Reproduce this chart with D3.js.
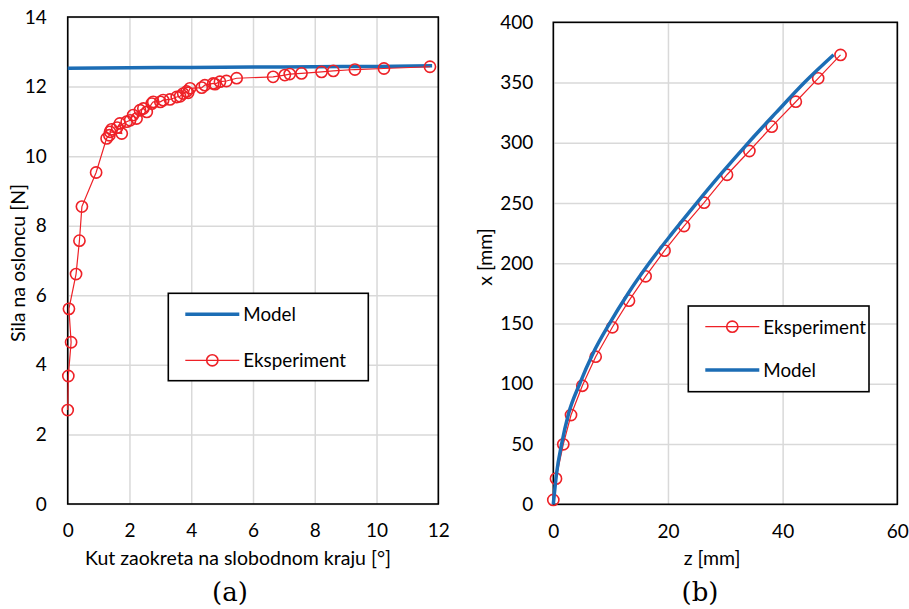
<!DOCTYPE html>
<html>
<head>
<meta charset="utf-8">
<script src="https://cdn.jsdelivr.net/npm/d3@7"></script>
<style>
  body { margin: 0; background: #fff; }
  svg { display: block; }
  .tick text { font-family: Lato, "Open Sans", sans-serif; font-size: 19px; fill: #000; }
  .grid line { stroke: #d9d9d9; stroke-width: 1.5; }
  .lbl { font-family: Lato, "Open Sans", sans-serif; font-size: 19.5px; fill: #000; }
  .leg { font-family: Lato, "Open Sans", sans-serif; font-size: 18.8px; fill: #000; }
  .cap { font-family: "DejaVu Serif", serif; font-size: 26px; fill: #000; }
</style>
</head>
<body>
<script>
"use strict";

// (a) force on support vs rotation angle at free end
var angleTicks = [0, 2, 4, 6, 8, 10, 12];
var forceTicks = [0, 2, 4, 6, 8, 10, 12, 14];
var modelAngle = [0, 2, 4, 6, 8, 10, 11.8];
var modelForce = [12.53, 12.54, 12.55, 12.56, 12.57, 12.58, 12.6];
var expAngle = [0.00, 0.02, 0.11, 0.04, 0.27, 0.38, 0.46, 0.92, 1.26, 1.35, 1.42, 1.37, 1.75, 1.69, 1.60, 1.91, 2.02, 2.12, 2.23, 2.34, 2.45, 2.56, 2.72, 2.77, 3.00, 3.09, 3.31, 3.53, 3.64, 3.74, 3.85, 3.90, 3.96, 4.34, 4.44, 4.71, 4.77, 4.93, 5.14, 5.47, 6.65, 7.03, 7.19, 7.57, 8.22, 8.60, 9.30, 10.24, 11.73];
var expForce = [2.70, 3.68, 4.65, 5.61, 6.61, 7.57, 8.55, 9.53, 10.51, 10.60, 10.77, 10.70, 10.65, 10.94, 10.82, 10.99, 11.03, 11.18, 11.08, 11.32, 11.37, 11.27, 11.51, 11.56, 11.56, 11.61, 11.63, 11.70, 11.72, 11.80, 11.86, 11.82, 11.95, 11.97, 12.04, 12.09, 12.07, 12.14, 12.16, 12.24, 12.28, 12.33, 12.36, 12.38, 12.42, 12.45, 12.49, 12.52, 12.57];

// (b) deflected shape
var zTicks = [0, 20, 40, 60];
var xTicks = [0, 50, 100, 150, 200, 250, 300, 350, 400];
var modelZ = [0, 0.55, 1.45, 2.65, 4.6, 6.9, 9.8, 13.05, 16.7, 20.75, 25.0, 29.4, 34.0, 38.85, 43.8, 48.9];
var modelX = [0, 25, 50, 75, 100, 125, 150, 175, 200, 225, 250, 275, 300, 325, 350, 373];
var expZ = [0.0, 0.47, 1.74, 3.09, 5.06, 7.39, 10.3, 13.2, 16.1, 19.4, 22.8, 26.3, 30.3, 34.2, 38.1, 42.3, 46.2, 50.1];
var expX = [3.6, 21.3, 49.8, 74.1, 98.4, 122.5, 146.9, 169.0, 189.2, 210.5, 230.9, 250.3, 273.5, 293.2, 313.4, 334.1, 353.5, 372.9];

var RED = "#ee2127";
var BLUE = "#1c6db5";

var svg = d3.select("body").append("svg").attr("width", 909).attr("height", 609);

function drawPanel(o){
    var g = svg.append("g");
    var x = d3.scaleLinear().domain(o.xDom).range([o.left, o.right]);
    var y = d3.scaleLinear().domain(o.yDom).range([o.bottom, o.top]);

    // grid
    g.append("g").attr("class", "grid")
        .attr("transform", "translate(0," + o.bottom + ")")
        .call(d3.axisBottom(x).tickValues(o.xTicks).tickSize(-(o.bottom - o.top)).tickFormat(""))
        .call(function(s){ s.select(".domain").remove(); });
    g.append("g").attr("class", "grid")
        .attr("transform", "translate(" + o.left + ",0)")
        .call(d3.axisLeft(y).tickValues(o.yTicks).tickSize(-(o.right - o.left)).tickFormat(""))
        .call(function(s){ s.select(".domain").remove(); });

    // tick labels
    g.append("g")
        .attr("transform", "translate(0," + o.bottom + ")")
        .call(d3.axisBottom(x).tickValues(o.xTicks).tickSize(0).tickPadding(20))
        .call(function(s){ s.select(".domain").remove(); });
    g.append("g")
        .attr("transform", "translate(" + o.left + ",0)")
        .call(d3.axisLeft(y).tickValues(o.yTicks).tickSize(0).tickPadding(o.yPad))
        .call(function(s){ s.select(".domain").remove(); });

    g.append("rect")
        .attr("x", o.left).attr("y", o.top)
        .attr("width", o.right - o.left).attr("height", o.bottom - o.top)
        .attr("fill", "none").attr("stroke", "#000").attr("stroke-width", 1.6);

    var line = d3.line().x(function(d){ return x(d[0]); }).y(function(d){ return y(d[1]); });
    var model = d3.zip(o.mX, o.mY);
    var exp = d3.zip(o.eX, o.eY);

    function drawModel(){
        g.append("path").datum(model).attr("d", line.curve(d3.curveMonotoneX))
            .attr("fill", "none").attr("stroke", BLUE).attr("stroke-width", 3.5);
        line.curve(d3.curveLinear);
    }
    function drawExp(){
        g.append("path").datum(exp).attr("d", line)
            .attr("fill", "none").attr("stroke", RED).attr("stroke-width", 1.2);
        g.selectAll(null).data(exp).enter().append("circle")
            .attr("cx", function(d){ return x(d[0]); })
            .attr("cy", function(d){ return y(d[1]); })
            .attr("r", 5.6)
            .attr("fill", "none").attr("stroke", RED).attr("stroke-width", 1.6);
    }
    if (o.modelFirst) { drawExp(); drawModel(); } else { drawModel(); drawExp(); }

    // axis titles
    g.append("text").attr("class", "lbl").attr("text-anchor", "middle")
        .attr("x", o.xTitleX).attr("y", 565).text(o.xTitle);
    g.append("text").attr("class", "lbl").attr("text-anchor", "middle")
        .attr("transform", "translate(" + o.yTitleX + "," + o.yTitleY + ") rotate(-90)")
        .text(o.yTitle);
    g.append("text").attr("class", "cap").attr("text-anchor", "middle")
        .attr("x", o.capX).attr("y", 601).text(o.cap);

    // legend
    var L = o.legend;
    g.append("rect").attr("x", L.x).attr("y", L.y).attr("width", L.w).attr("height", L.h)
        .attr("fill", "#fff").attr("stroke", "#000").attr("stroke-width", 1.6);
    L.items.forEach(function(it, i){
        var yy = L.y + L.rowY[i];
        g.append("line").attr("x1", L.x + 17).attr("x2", L.x + 71).attr("y1", yy).attr("y2", yy)
            .attr("stroke", it.model ? BLUE : RED).attr("stroke-width", it.model ? 3.5 : 1.2);
        if (!it.model) {
            g.append("circle").attr("cx", L.x + 44).attr("cy", yy).attr("r", 5.6)
                .attr("fill", "none").attr("stroke", RED).attr("stroke-width", 1.6);
        }
        g.append("text").attr("class", "leg").attr("x", L.x + 75).attr("y", yy + 7).text(it.name);
    });
}

drawPanel({
    left: 67.7, right: 438.3, top: 17, bottom: 504,
    xDom: [0, 12], yDom: [0, 14], xTicks: angleTicks, yTicks: forceTicks, yPad: 21,
    mX: modelAngle, mY: modelForce, eX: expAngle, eY: expForce, modelFirst: false,
    xTitle: "Kut zaokreta na slobodnom kraju [°]", xTitleX: 238,
    yTitle: "Sila na osloncu [N]", yTitleX: 25, yTitleY: 263,
    cap: "(a)", capX: 230,
    legend: { x: 168.3, y: 293.3, w: 200, h: 87.4, rowY: [21, 67],
        items: [{ name: "Model", model: true }, { name: "Eksperiment", model: false }] }
});

drawPanel({
    left: 553.3, right: 897.3, top: 22.3, bottom: 504.3,
    xDom: [0, 60], yDom: [0, 400], xTicks: zTicks, yTicks: xTicks, yPad: 20,
    mX: modelZ, mY: modelX, eX: expZ, eY: expX, modelFirst: true,
    xTitle: "z [mm]", xTitleX: 712,
    yTitle: "x [mm]", yTitleX: 492, yTitleY: 257,
    cap: "(b)", capX: 700,
    legend: { x: 688.3, y: 306, w: 180.7, h: 85.7, rowY: [20.7, 64],
        items: [{ name: "Eksperiment", model: false }, { name: "Model", model: true }] }
});
</script>
</body>
</html>
